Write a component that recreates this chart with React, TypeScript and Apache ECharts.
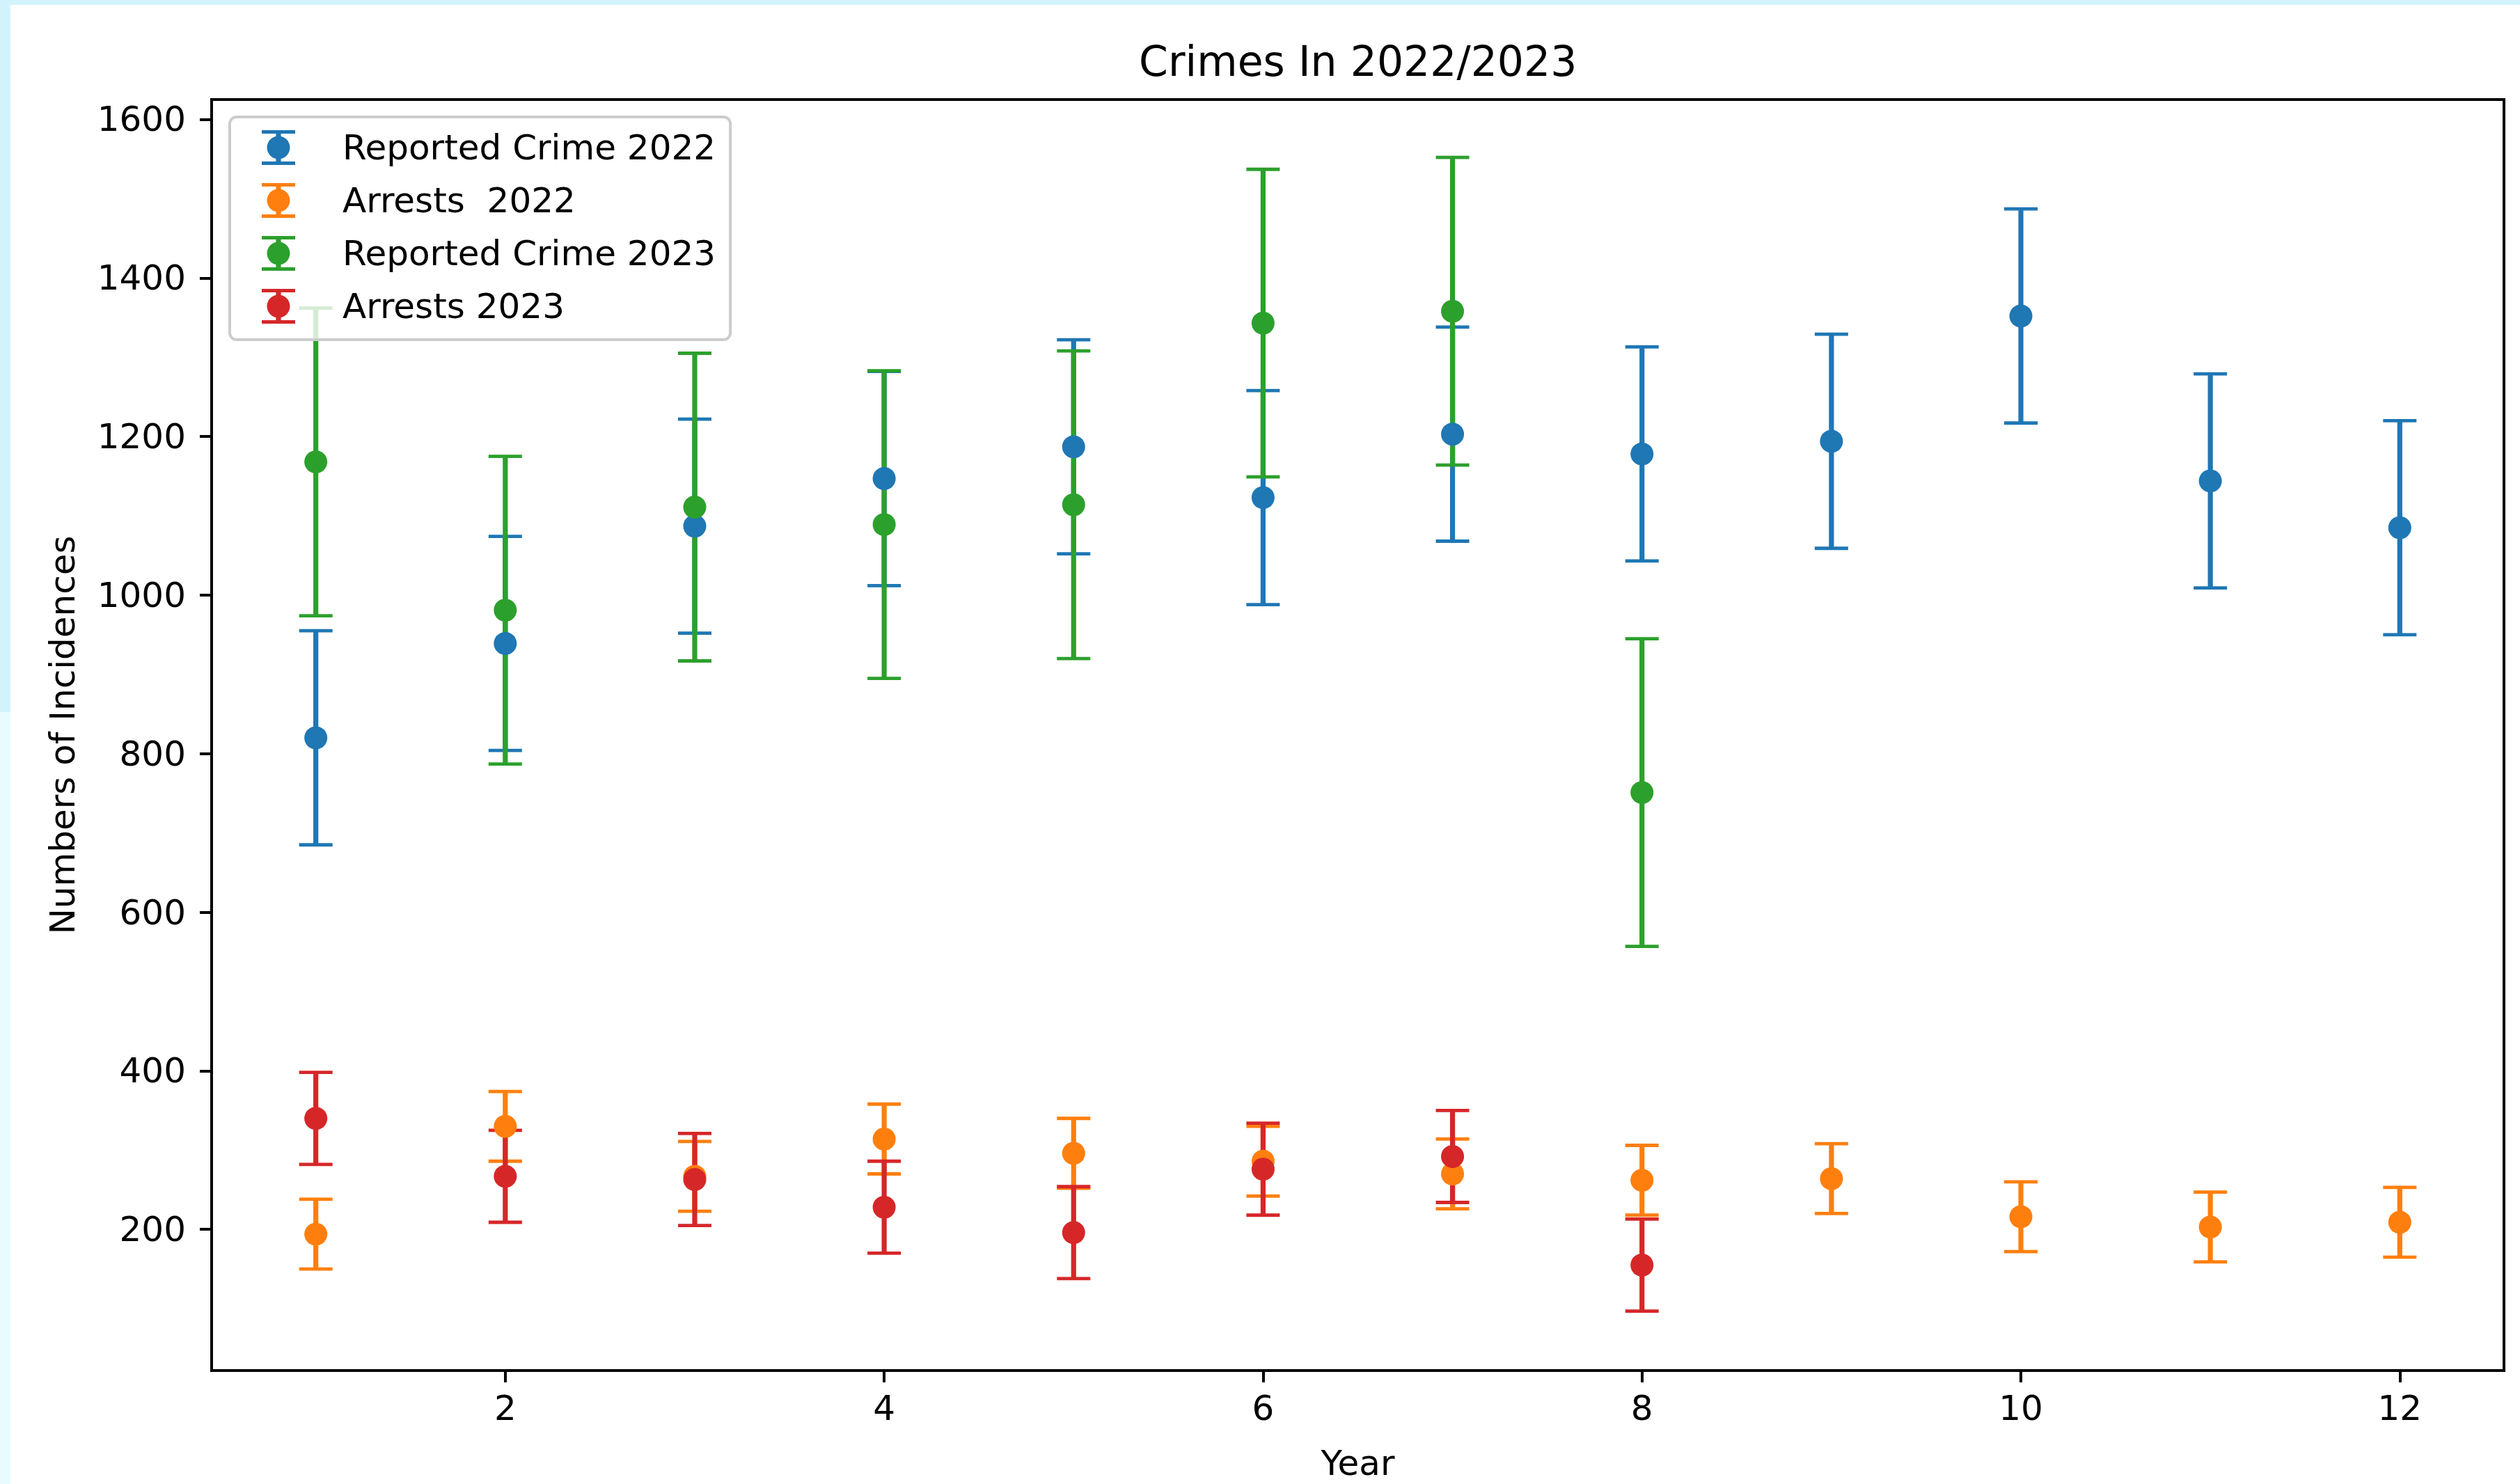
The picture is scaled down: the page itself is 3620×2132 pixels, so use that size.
import React, { useEffect, useRef } from "react";
import * as echarts from "echarts";

// ---------- data ----------
const months2022 = [1, 2, 3, 4, 5, 6, 7, 8, 9, 10, 11, 12];
const months2023 = [1, 2, 3, 4, 5, 6, 7, 8];

const reported2022 = [820, 939, 1087, 1147, 1187, 1123, 1203, 1178, 1194, 1352, 1144, 1085];
const reported2022Err = [135, 135, 135, 135, 135, 135, 135, 135, 135, 135, 135, 135];

const arrests2022 = [194, 330, 267, 314, 296, 286, 270, 262, 264, 216, 203, 209];
const arrests2022Err = [44, 44, 44, 44, 44, 44, 44, 44, 44, 44, 44, 44];

const reported2023 = [1168, 981, 1111, 1089, 1114, 1343, 1358, 751];
const reported2023Err = [194, 194, 194, 194, 194, 194, 194, 194];

const arrests2023 = [340, 267, 263, 228, 196, 276, 292, 155];
const arrests2023Err = [58, 58, 58, 58, 58, 58, 58, 58];

const xTicks = [2, 4, 6, 8, 10, 12];
const yTicks = [200, 400, 600, 800, 1000, 1200, 1400, 1600];

const seriesNames = ["Reported Crime 2022", "Arrests  2022", "Reported Crime 2023", "Arrests 2023"];
const seriesColors = ["#1f77b4", "#ff7f0e", "#2ca02c", "#d62728"];
const seriesX = [months2022, months2022, months2023, months2023];
const seriesY = [reported2022, arrests2022, reported2023, arrests2023];
const seriesErr = [reported2022Err, arrests2022Err, reported2023Err, arrests2023Err];

const TITLE = "Crimes In 2022/2023";
const X_NAME = "Year";
const Y_NAME = "Numbers of Incidences";

// ---------- styling ----------
const FONT = "DejaVu Sans";
const ERR_LINE_W = 7.2;
const CAP_LINE_W = 4.8;
const CAP_HALF = 24;
const MARKER = 33;

const LEGEND_ICON =
  "path://M1 0H49V5H1Z M1 45H49V50H1Z M21.4 0H28.6V50H21.4Z M8.5 25A16.5 16.5 0 1 1 41.5 25A16.5 16.5 0 1 1 8.5 25Z";

function buildOption(): any {
  const series: any[] = [];
  // error bars first (below all markers, like matplotlib's zorder)
  seriesNames.forEach((name, si) => {
    const color = seriesColors[si];
    series.push({
      type: "custom",
      name: "err-" + name,
      z: 2,
      clip: false,
      itemStyle: { color },
      encode: { x: 0, y: 1 },
      data: seriesX[si].map((x, i) => [x, seriesY[si][i], seriesErr[si][i]]),
      renderItem: (params: any, api: any) => {
        const x = api.value(0);
        const y = api.value(1);
        const e = api.value(2);
        const top = api.coord([x, y + e]);
        const bot = api.coord([x, y - e]);
        return {
          type: "group",
          children: [
            {
              type: "line",
              shape: { x1: top[0], y1: top[1], x2: bot[0], y2: bot[1] },
              style: { stroke: color, lineWidth: ERR_LINE_W },
            },
            {
              type: "line",
              shape: { x1: top[0] - CAP_HALF, y1: top[1], x2: top[0] + CAP_HALF, y2: top[1] },
              style: { stroke: color, lineWidth: CAP_LINE_W },
            },
            {
              type: "line",
              shape: { x1: bot[0] - CAP_HALF, y1: bot[1], x2: bot[0] + CAP_HALF, y2: bot[1] },
              style: { stroke: color, lineWidth: CAP_LINE_W },
            },
          ],
        };
      },
    });
  });
  seriesNames.forEach((name, si) => {
    series.push({
      type: "scatter",
      name,
      z: 3,
      symbol: "circle",
      symbolSize: MARKER,
      itemStyle: { color: seriesColors[si], opacity: 1 },
      data: seriesX[si].map((x, i) => [x, seriesY[si][i]]),
    });
  });

  return {
    animation: false,
    backgroundColor: "#ffffff",
    textStyle: { fontFamily: FONT },
    title: {
      text: TITLE,
      left: 1636,
      top: 58,
      padding: 0,
      textStyle: { fontFamily: FONT, fontSize: 60, fontWeight: "normal", color: "#000" },
    },
    graphic: [
      { type: "rect", z: -10, shape: { x: 0, y: 0, width: 3620, height: 7 }, style: { fill: "#d2f3fc" } },
      { type: "rect", z: -10, shape: { x: 0, y: 0, width: 15, height: 1023 }, style: { fill: "#d2f3fc" } },
      { type: "rect", z: -10, shape: { x: 0, y: 1023, width: 15, height: 1109 }, style: { fill: "#e9fcfd" } },
    ],
    legend: {
      orient: "vertical",
      left: 330,
      top: 168,
      padding: [19, 21, 23, 46],
      itemGap: 26,
      itemWidth: 50,
      itemHeight: 50,
      selectedMode: false,
      backgroundColor: "rgba(255,255,255,0.8)",
      borderColor: "#cccccc",
      borderWidth: 4,
      borderRadius: 10,
      textStyle: { fontFamily: FONT, fontSize: 50, color: "#000", padding: [0, 0, 0, 62] },
      data: seriesNames.map((n) => ({ name: n, icon: LEGEND_ICON })),
    },
    grid: {
      left: 304,
      top: 143,
      right: 23,
      bottom: 152,
      show: true,
      borderColor: "#000",
      borderWidth: 4,
      backgroundColor: "transparent",
      containLabel: false,
    },
    xAxis: {
      type: "value",
      min: 0.45,
      max: 12.55,
      name: X_NAME,
      nameLocation: "middle",
      nameGap: 108,
      nameTextStyle: { fontFamily: FONT, fontSize: 50, color: "#000" },
      axisLine: { show: true, onZero: false, lineStyle: { color: "#000", width: 4 } },
      axisTick: { show: true, length: 17, lineStyle: { color: "#000", width: 4 }, customValues: xTicks },
      axisLabel: {
        show: true,
        margin: 29,
        fontFamily: FONT,
        fontSize: 50,
        color: "#000",
        customValues: xTicks,
        formatter: (v: number) => String(v),
      },
      splitLine: { show: false },
    },
    yAxis: {
      type: "value",
      min: 22,
      max: 1625,
      name: Y_NAME,
      nameLocation: "middle",
      nameRotate: 90,
      nameGap: 189,
      nameTextStyle: { fontFamily: FONT, fontSize: 50, color: "#000" },
      axisLine: { show: true, onZero: false, lineStyle: { color: "#000", width: 4 } },
      axisTick: { show: true, length: 17, lineStyle: { color: "#000", width: 4 }, customValues: yTicks },
      axisLabel: {
        show: true,
        margin: 37,
        fontFamily: FONT,
        fontSize: 50,
        color: "#000",
        customValues: yTicks,
        formatter: (v: number) => String(v),
      },
      splitLine: { show: false },
    },
    series,
  };
}

export default function App() {
  const ref = useRef<HTMLDivElement>(null);
  useEffect(() => {
    document.body.style.margin = "0";
    if (!ref.current) return;
    const chart = echarts.init(ref.current, undefined, { renderer: "svg" });
    chart.setOption(buildOption());
    return () => chart.dispose();
  }, []);
  return (
    <div
      ref={ref}
      style={{ position: "absolute", left: 0, top: 0, width: 3620, height: 2132, background: "#fff" }}
    />
  );
}
